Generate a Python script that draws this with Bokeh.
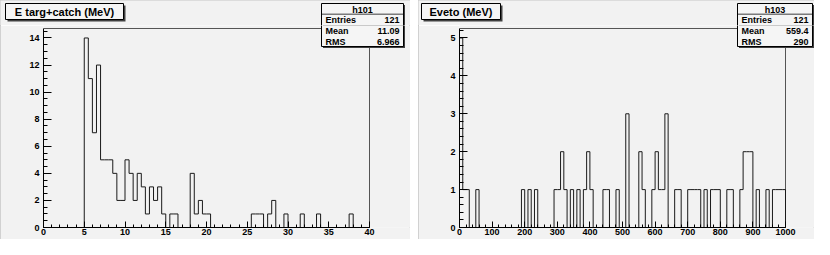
import numpy as np
from bokeh.plotting import figure
from bokeh.layouts import row, column
from bokeh.models import (Range1d, SingleIntervalTicker, LinearAxis,
                          Label, BoxAnnotation, Spacer)
from bokeh.embed import file_html
from bokeh.resources import INLINE

# ---------------- data ----------------
# h101 : "E targ+catch (MeV)", 80 bins from 0 to 40
h101_title = "E targ+catch (MeV)"
h101_lo, h101_hi = 0.0, 40.0
h101_counts = [
    0, 0, 0, 0, 0, 0, 0, 0, 0, 0,
    14, 11, 7, 12, 5, 5, 5, 4, 2, 2,
    5, 4, 2, 4, 3, 1, 3, 2, 3, 1,
    0, 1, 1, 0, 0, 0, 4, 1, 2, 1,
    1, 0, 0, 0, 0, 0, 0, 0, 0, 0,
    0, 1, 1, 1, 0, 1, 2, 0, 0, 1,
    0, 0, 0, 1, 0, 0, 0, 1, 0, 0,
    0, 0, 0, 0, 0, 1, 0, 0, 0, 0,
]
h101_stats = [("Entries", "121"), ("Mean", "11.09"), ("RMS", "6.966")]

# h103 : "Eveto (MeV)", 100 bins from 0 to 1000
h103_title = "Eveto (MeV)"
h103_lo, h103_hi = 0.0, 1000.0
h103_counts = [
    5, 1, 1, 0, 0, 1, 0, 0, 0, 0,
    0, 0, 0, 0, 0, 0, 0, 0, 0, 1,
    0, 1, 0, 1, 0, 0, 0, 0, 0, 1,
    1, 2, 1, 0, 1, 0, 1, 0, 1, 2,
    1, 0, 0, 0, 1, 1, 0, 0, 1, 0,
    0, 3, 0, 0, 0, 2, 1, 0, 0, 1,
    2, 1, 1, 3, 0, 0, 1, 1, 0, 0,
    1, 1, 1, 1, 0, 1, 0, 1, 1, 1,
    0, 0, 1, 1, 0, 0, 1, 2, 2, 2,
    0, 1, 0, 0, 1, 0, 1, 1, 1, 1,
]
h103_stats = [("Entries", "121"), ("Mean", "559.4"), ("RMS", "290")]

# ---------------- styling / geometry ----------------
BG = "#f2f2f2"
FONT = "Liberation Sans"
H = 239          # total height
TOP_H = 25       # strip above the frame (title + stats box upper part)
FRAME_TOP = 28   # pixel row of the histogram frame's top edge
MB_BOT = 12
FRAME_W = 326    # pixels between lo and hi


def pad(name, title, counts, lo, hi, stats, width, frame_left,
        xint, xminor, yint, yminor, title_box, stats_box):
    counts = np.asarray(counts, dtype=float)
    n = len(counts)
    edges = lo + (hi - lo) / n * np.arange(n + 1)
    ymax = counts.max() * 1.05

    main_h = H - TOP_H
    frame_h = main_h - MB_BOT
    frame_w = width - frame_left
    x_end = lo + (hi - lo) * frame_w / FRAME_W
    y_end = ymax * frame_h / (H - MB_BOT - FRAME_TOP)

    top = figure(width=width, height=TOP_H, output_backend="svg", toolbar_location=None,
                 x_range=Range1d(0, 1), y_range=Range1d(0, 1),
                 x_axis_type=None, y_axis_type=None, min_border=0,
                 background_fill_color=BG, border_fill_color=BG)
    top.outline_line_color = None
    top.grid.visible = False

    p = figure(width=width, height=main_h, output_backend="svg", toolbar_location=None,
               x_range=Range1d(lo, x_end), y_range=Range1d(0, y_end),
               x_axis_type=None, y_axis_type=None,
               min_border_left=frame_left, min_border_right=0,
               min_border_top=0, min_border_bottom=MB_BOT,
               background_fill_color=BG, border_fill_color=BG)
    p.outline_line_color = None

    # frame (top and right edges)
    p.line([lo, hi, hi], [ymax, ymax, 0], line_color="#555555", line_width=1)

    # histogram outline (ROOT "HIST" style)
    xs = np.repeat(edges, 2)
    ys = np.concatenate([[0.0], np.repeat(counts, 2), [0.0]])
    p.line(xs, ys, line_color="#1a1a1a", line_width=1)

    common = dict(major_label_text_font=FONT, major_label_text_font_style="bold",
                  major_label_text_font_size="9px", major_label_text_color="black",
                  axis_line_color="black", major_tick_line_color="black",
                  minor_tick_line_color="black", major_tick_out=0, minor_tick_out=0)
    xa = LinearAxis(ticker=SingleIntervalTicker(interval=xint, num_minor_ticks=xminor),
                    bounds=(lo, hi), major_tick_in=6, minor_tick_in=3,
                    major_label_standoff=1, **common)
    ya = LinearAxis(ticker=SingleIntervalTicker(interval=yint, num_minor_ticks=yminor),
                    bounds=(0, ymax), major_tick_in=8, minor_tick_in=4,
                    major_label_standoff=4, **common)
    p.add_layout(xa, "below")
    p.add_layout(ya, "left")

    # annotations, given in pad pixel coordinates (x right, y down)
    T = (top, 0, TOP_H)
    M = (p, frame_left, H - MB_BOT)

    def box(l, r, t, b, fill, line, figs=(T, M)):
        for f, fl, fb in figs:
            f.add_layout(BoxAnnotation(left=l - fl, right=r - fl, top=fb - t, bottom=fb - b,
                                       left_units="screen", right_units="screen",
                                       top_units="screen", bottom_units="screen",
                                       fill_color=fill, fill_alpha=1.0,
                                       line_color=line if line else fill, line_width=1,
                                       line_alpha=1.0 if line else 0.0))

    def text(target, x, y, s, size, align="left"):
        f, fl, fb = target
        f.add_layout(Label(x=x - fl, y=fb - y, x_units="screen", y_units="screen", text=s,
                           text_font=FONT, text_font_style="bold", text_font_size=size,
                           text_align=align, text_baseline="middle", text_color="black"))

    # title box (lives in the top strip)
    tl, tr, tt, tb = title_box
    box(tl + 2, tr + 2, tt + 2, tb + 2, "#404040", None, figs=(T,))
    box(tl, tr, tt, tb, "#f5f5f5", "black", figs=(T,))
    text(T, (tl + tr) / 2, (tt + tb) / 2 + 0.5, title, "11px", "center")

    # stats box (spans the strip and the frame; each figure clips its part)
    sl, sr, st, sb = stats_box
    box(sl + 1.5, sr + 1.5, st + 1.5, sb + 1.5, "#404040", None)
    box(sl, sr, st, sb, "#f5f5f5", "black")
    text(T, (sl + sr) / 2, st + 6.3, name, "9px", "center")
    box(sl, sr, st + 10.3, st + 11.0, "black", None, figs=(T,))
    rows = [(T, st + 16.2), (M, st + 27.6), (M, st + 38.3)]
    for (k, v), (tgt, yy) in zip(stats, rows):
        text(tgt, sl + 4, yy, k, "9px", "left")
        text(tgt, sr - 4, yy, v, "9px", "right")

    # wrap each figure in its own row so the column does not align their frames
    return column(row(top), row(p),
                  styles={"outline": "1px solid #c6c6c6", "outline-offset": "-1px"})


left = pad("h101", h101_title, h101_counts, h101_lo, h101_hi, h101_stats,
           width=410, frame_left=43, xint=5, xminor=5, yint=2, yminor=4,
           title_box=(5, 123, 3, 19), stats_box=(321, 403, 3, 46))
right = pad("h103", h103_title, h103_counts, h103_lo, h103_hi, h103_stats,
            width=396, frame_left=41, xint=100, xminor=5, yint=1, yminor=5,
            title_box=(3, 82, 3, 19), stats_box=(319, 394, 3, 46))

layout = row(left, Spacer(width=8, height=H), right)

open("out.html", "w").write(file_html(layout, INLINE))
